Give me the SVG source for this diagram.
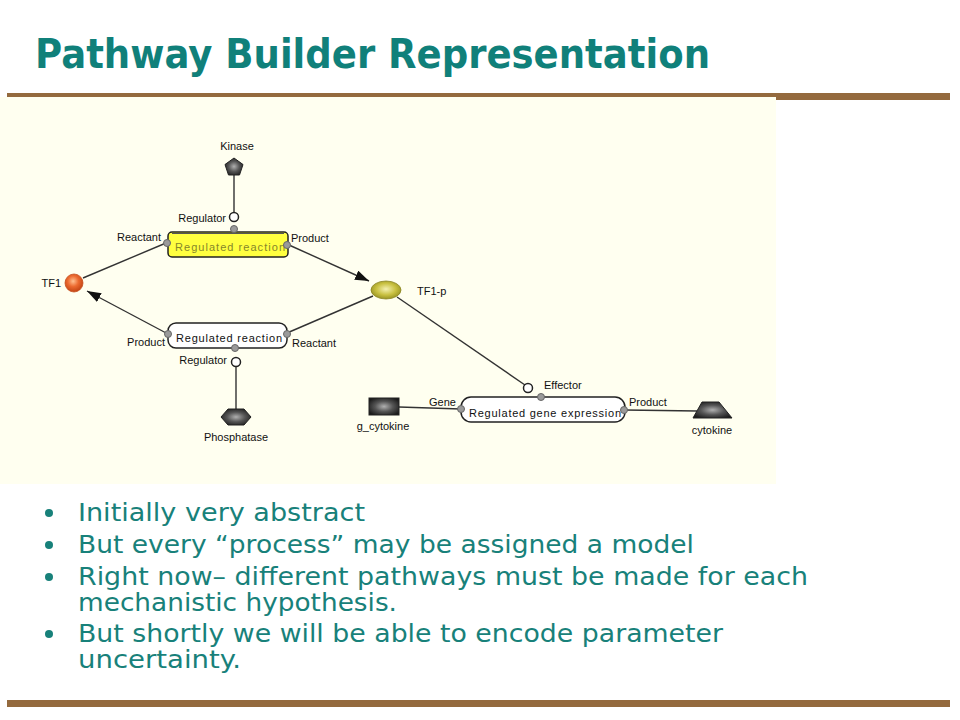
<svg xmlns="http://www.w3.org/2000/svg" width="960" height="720" viewBox="0 0 960 720">
<defs>
<style>
.title{font-family:"DejaVu Sans",Verdana,sans-serif;font-weight:bold;font-size:40px;fill:#10807a}
.bul{font-family:"DejaVu Sans",Tahoma,sans-serif;font-size:25px;fill:#18817a}
.lbl{font-family:"Liberation Sans",Arial,sans-serif;font-size:11px;fill:#111}
.mid{text-anchor:middle}
.end{text-anchor:end}
.conn{stroke:#333;stroke-width:1.4;fill:none}
.port{fill:#9a9a9a;stroke:#666;stroke-width:1}
.term{fill:#fff;stroke:#222;stroke-width:1.5}
.box{stroke:#222;stroke-width:1.5}
.dot{fill:#18817a}
</style>
<radialGradient id="gOrange" cx="0.45" cy="0.4" r="0.6">
<stop offset="0" stop-color="#ffc090"/>
<stop offset="0.5" stop-color="#ec6a30"/>
<stop offset="1" stop-color="#c24414"/>
</radialGradient>
<radialGradient id="gOlive" cx="0.5" cy="0.45" r="0.6">
<stop offset="0" stop-color="#f4f0b0"/>
<stop offset="0.55" stop-color="#c8c040"/>
<stop offset="1" stop-color="#8e8a20"/>
</radialGradient>
<radialGradient id="gDark" cx="0.5" cy="0.5" r="0.6">
<stop offset="0" stop-color="#b0b0b0"/>
<stop offset="0.5" stop-color="#555"/>
<stop offset="1" stop-color="#1a1a1a"/>
</radialGradient>
<marker id="arr" markerUnits="userSpaceOnUse" markerWidth="14" markerHeight="10" refX="14" refY="5" orient="auto">
<path d="M0,0 L14,5 L0,10 z" fill="#111"/>
</marker>
</defs>

<rect x="0" y="0" width="960" height="720" fill="#ffffff"/>

<g id="title">
<text class="title" x="35" y="68" textLength="675" lengthAdjust="spacingAndGlyphs">Pathway Builder Representation</text>
</g>

<rect x="7" y="93" width="943" height="7" fill="#946a3e"/>
<rect x="0" y="97" width="776" height="387" fill="#fffff0"/>

<g id="connectors">
<line class="conn" x1="83" y1="278" x2="166" y2="243"/>
<line class="conn" x1="289" y1="245" x2="369" y2="281" marker-end="url(#arr)"/>
<line class="conn" x1="287" y1="333" x2="373" y2="296"/>
<line class="conn" x1="168" y1="334" x2="87" y2="291" marker-end="url(#arr)"/>
<line class="conn" x1="397" y1="297" x2="525" y2="385"/>
<line class="conn" x1="234" y1="175" x2="234" y2="212"/>
<line class="conn" x1="236" y1="367" x2="236" y2="409"/>
<line class="conn" x1="399" y1="407" x2="461" y2="409"/>
<line class="conn" x1="625" y1="410" x2="697" y2="411"/>
</g>

<g id="kinase">
<polygon points="234,158 243,164.5 239.5,175 228.5,175 225,164.5" fill="url(#gDark)" stroke="#222" stroke-width="1"/>
<text class="lbl mid" x="237" y="150">Kinase</text>
</g>

<g id="reaction1">
<rect class="box" x="168" y="232" width="120" height="25" rx="4" fill="#ffff40"/>
<line x1="172" y1="233.5" x2="284" y2="233.5" stroke="#555" stroke-width="1"/>
<text class="lbl mid" x="230" y="251" style="fill:#86862a" textLength="110" lengthAdjust="spacing">Regulated reaction</text>
<circle class="port" cx="234" cy="229" r="3.5"/>
<circle class="port" cx="167" cy="243" r="3.5"/>
<circle class="port" cx="287" cy="245" r="3.5"/>
<circle class="term" cx="234" cy="217" r="4.5"/>
<text class="lbl end" x="226" y="222">Regulator</text>
<text class="lbl end" x="161" y="241">Reactant</text>
<text class="lbl" x="291" y="242">Product</text>
</g>

<g id="tf1">
<circle cx="74" cy="283" r="9" fill="url(#gOrange)" stroke="#c85020" stroke-width="0.8"/>
<text class="lbl end" x="61" y="287">TF1</text>
</g>

<g id="tf1p">
<ellipse cx="386" cy="290" rx="15" ry="9" fill="url(#gOlive)" stroke="#8a8420" stroke-width="0.8"/>
<text class="lbl" x="417" y="295">TF1-p</text>
</g>

<g id="reaction2">
<rect class="box" x="168" y="323" width="119" height="25" rx="8" fill="#ffffff"/>
<text class="lbl mid" x="229" y="342" textLength="106" lengthAdjust="spacing">Regulated reaction</text>
<circle class="port" cx="168" cy="334" r="3.5"/>
<circle class="port" cx="287" cy="334" r="3.5"/>
<circle class="port" cx="235" cy="348" r="3.5"/>
<circle class="term" cx="236" cy="362" r="4.5"/>
<text class="lbl end" x="227" y="364">Regulator</text>
<text class="lbl end" x="165" y="346">Product</text>
<text class="lbl" x="292" y="347">Reactant</text>
</g>

<g id="phosphatase">
<polygon points="221,417 228,409 244,409 251,417 244,425 228,425" fill="url(#gDark)" stroke="#222" stroke-width="1"/>
<text class="lbl mid" x="236" y="441">Phosphatase</text>
</g>

<g id="geneexpr">
<rect class="box" x="461" y="397" width="164" height="25" rx="10" fill="#ffffff"/>
<text class="lbl mid" x="545" y="417" textLength="152" lengthAdjust="spacing">Regulated gene expression</text>
<circle class="port" cx="461" cy="409" r="3.5"/>
<circle class="port" cx="624" cy="410" r="3.5"/>
<circle class="port" cx="541" cy="397" r="3.5"/>
<circle class="term" cx="528" cy="388" r="4.5"/>
<text class="lbl" x="544" y="389">Effector</text>
<text class="lbl" x="429" y="406">Gene</text>
<text class="lbl" x="629" y="406">Product</text>
</g>

<g id="g_cytokine">
<rect x="369" y="398" width="30" height="17" fill="url(#gDark)" stroke="#222" stroke-width="1"/>
<text class="lbl mid" x="383" y="430">g_cytokine</text>
</g>

<g id="cytokine">
<polygon points="702,402 719,402 732,418 693,418" fill="url(#gDark)" stroke="#222" stroke-width="1"/>
<text class="lbl mid" x="712" y="434">cytokine</text>
</g>

<g id="bullets">
<circle class="dot" cx="49" cy="513" r="4"/>
<text class="bul" x="78" y="521" textLength="287" lengthAdjust="spacingAndGlyphs">Initially very abstract</text>
<circle class="dot" cx="49" cy="545" r="4"/>
<text class="bul" x="78" y="553" textLength="616" lengthAdjust="spacingAndGlyphs">But every “process” may be assigned a model</text>
<circle class="dot" cx="49" cy="577" r="4"/>
<text class="bul" x="78" y="585" textLength="730" lengthAdjust="spacingAndGlyphs">Right now– different pathways must be made for each</text>
<text class="bul" x="78" y="611" textLength="319" lengthAdjust="spacingAndGlyphs">mechanistic hypothesis.</text>
<circle class="dot" cx="49" cy="634" r="4"/>
<text class="bul" x="78" y="642" textLength="645" lengthAdjust="spacingAndGlyphs">But shortly we will be able to encode parameter</text>
<text class="bul" x="78" y="668" textLength="163" lengthAdjust="spacingAndGlyphs">uncertainty.</text>
</g>

<rect x="7" y="700" width="943" height="7" fill="#946a3e"/>
</svg>
